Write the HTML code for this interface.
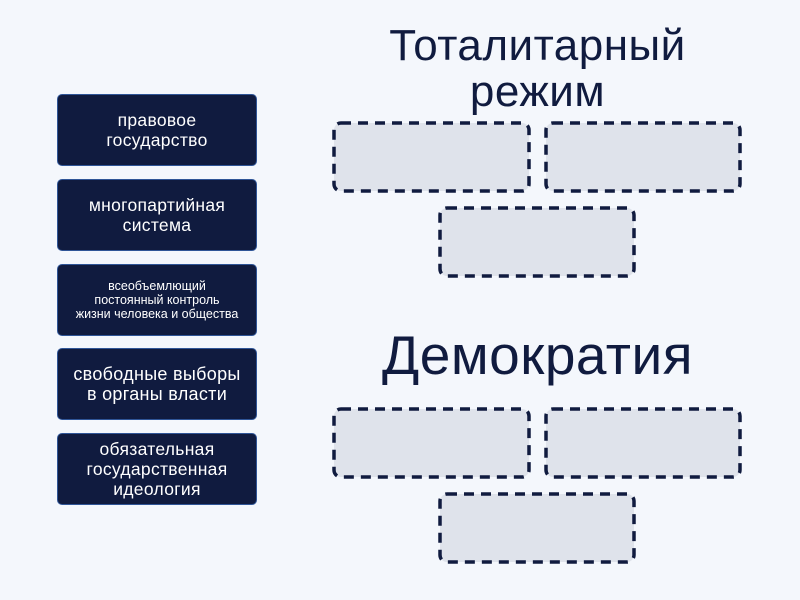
<!DOCTYPE html>
<html><head><meta charset="utf-8"><style>
body{margin:0;width:800px;height:600px;background:#f4f7fc;position:relative;overflow:hidden;font-family:"Liberation Sans","DejaVu Sans",sans-serif}
.c{position:absolute;left:57px;width:198px;height:70px;background:#101b3f;border:1.5px solid #2f5597;border-radius:5px;color:#fff;display:flex;align-items:center;justify-content:center;text-align:center;font-size:17.5px;line-height:20px;letter-spacing:0.3px}
.s{font-size:12.5px;line-height:14px;letter-spacing:0}
.t{position:absolute;color:#101b3f;text-align:center}
</style></head><body>
<div class="c" style="top:94px">правовое<br>государство</div>
<div class="c" style="top:179px">многопартийная<br>система</div>
<div class="c s" style="top:264px">всеобъемлющий<br>постоянный контроль<br>жизни человека и общества</div>
<div class="c" style="top:348px;font-size:18px">свободные выборы<br>в органы власти</div>
<div class="c" style="top:433px">обязательная<br>государственная<br>идеология</div>
<div class="t" style="left:290px;width:495px;top:23px;font-size:44px;line-height:46px;letter-spacing:0.5px">Тоталитарный<br>режим</div>
<div class="t" style="left:290px;width:495px;top:324px;font-size:55px;line-height:62px;letter-spacing:0.5px">Демократия</div>
<svg width="800" height="600" style="position:absolute;left:0;top:0">
<g fill="#dfe3eb" stroke="#101b3f" stroke-width="3.5" stroke-dasharray="10 7">
<rect x="334" y="123" width="195" height="68" rx="7"/>
<rect x="546" y="123" width="194" height="68" rx="7"/>
<rect x="440" y="208" width="194" height="68" rx="7"/>
<rect x="334" y="409" width="195" height="68" rx="7"/>
<rect x="546" y="409" width="194" height="68" rx="7"/>
<rect x="440" y="494" width="194" height="68" rx="7"/>
</g></svg>
</body></html>
